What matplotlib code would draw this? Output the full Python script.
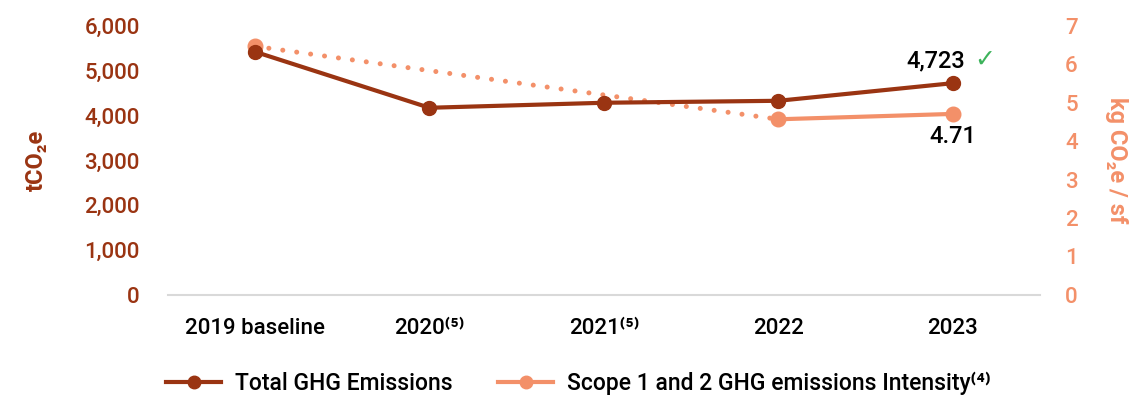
import matplotlib
matplotlib.use("Agg")
import matplotlib.pyplot as plt
import numpy as np
from matplotlib.lines import Line2D

categories = ["2019 baseline", "2020⁽⁵⁾", "2021⁽⁵⁾", "2022", "2023"]
total_ghg = [5424, 4174, 4286, 4330, 4723]
intensity_cats = [0, 3, 4]
intensity = [6.47, 4.57, 4.71]
left_ticks = [0, 1000, 2000, 3000, 4000, 5000, 6000]
right_ticks = [0, 1, 2, 3, 4, 5, 6, 7]

DARK = "#9A3412"
LIGHT = "#F39069"
FAM = ["Roboto", "DejaVu Sans"]
plt.rcParams["font.family"] = FAM
plt.rcParams["font.weight"] = "medium"

fig = plt.figure(figsize=(11.33, 3.99), dpi=100)
ax = fig.add_axes([0.148, 0.261, 0.77, 0.674])
ax2 = ax.twinx()

x = np.arange(len(categories))
ax.set_xlim(-0.5, 4.5)
ax.set_ylim(0, 6000)
ax2.set_ylim(0, 7)

# intensity
ax2.plot([intensity_cats[0], intensity_cats[1]], [intensity[0], intensity[1]],
         color=LIGHT, lw=3.6, linestyle=(0, (0.01, 2.8)), dash_capstyle="round", zorder=2)
ax2.plot(intensity_cats[1:], intensity[1:], color=LIGHT, lw=3, zorder=2)
ax2.plot(intensity_cats, intensity, "o", color=LIGHT, ms=10.5, zorder=3)

ax.plot(x, total_ghg, color=DARK, lw=3, marker="o", ms=10, zorder=4)
ax.set_zorder(ax2.get_zorder() + 1)
ax.patch.set_visible(False)

for a in (ax, ax2):
    for s in a.spines.values():
        s.set_visible(False)
    a.tick_params(length=0)
ax.spines["bottom"].set_visible(True)
ax.spines["bottom"].set_color("#d9d9d9")
ax.spines["bottom"].set_linewidth(1.5)

ax.set_yticks(left_ticks)
ax.set_yticklabels([f"{v:,}" for v in left_ticks], color=DARK, fontsize=16)
ax2.set_yticks(right_ticks)
ax2.set_yticklabels([str(v) for v in right_ticks], color=LIGHT, fontsize=16)
ax.tick_params(axis="y", pad=20)
ax2.tick_params(axis="y", pad=18)
ax.set_xticks(x)
ax.set_xticklabels(categories, fontsize=16, color="black")
ax.tick_params(axis="x", pad=17)

ax.set_ylabel("tCO₂e", color=DARK, fontsize=17, fontweight="bold", labelpad=26)
ax2.set_ylabel("kg CO₂e / sf", color=LIGHT, fontsize=17, fontweight="bold",
               rotation=270, labelpad=36)

ax.annotate(f"{total_ghg[4]:,}", (x[4], total_ghg[4]), xytext=(9, 8),
            textcoords="offset points", ha="right", va="bottom", fontsize=17,
            color="black")
ax.annotate("✓", (x[4], total_ghg[4]), xytext=(23, 8), textcoords="offset points",
            ha="center", va="bottom", fontsize=18, color="#3DB35B", family=["DejaVu Sans"])
ax2.annotate(f"{intensity[2]:.2f}", (intensity_cats[2], intensity[2]), xytext=(0, -8),
             textcoords="offset points", ha="center", va="top", fontsize=17,
             color="black")

handles = [Line2D([], [], color=DARK, lw=3, marker="o", ms=9),
           Line2D([], [], color=LIGHT, lw=3, marker="o", ms=9)]
fig.legend(handles, ["Total GHG Emissions", "Scope 1 and 2 GHG emissions Intensity⁽⁴⁾"],
           loc="center", bbox_to_anchor=(0.5105, 0.04), ncol=2, frameon=False,
           fontsize=16.5, handlelength=2.4, handletextpad=0.6, columnspacing=2.0)

fig.savefig("out.png", dpi=100)
